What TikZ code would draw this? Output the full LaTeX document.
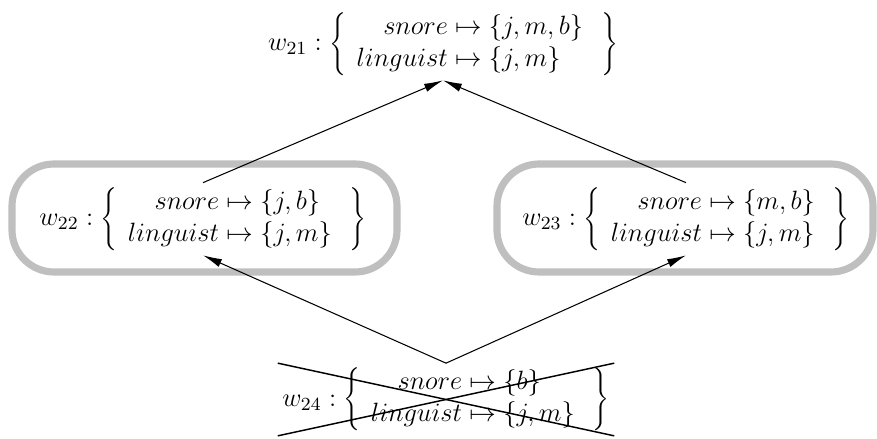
\RequirePackage{fix-cm}
\documentclass[tikz,border=0pt]{standalone}
\usetikzlibrary{arrows.meta}
\newcommand{\worldtext}[3]{$w_{#1}:\left\{\begin{array}{r@{}l} snore & {}\mapsto #2\\ linguist & {}\mapsto #3\end{array}\;\right\}$}
\tikzset{
  world/.style={inner sep=2.2pt, outer sep=0pt, font=\fontsize{12.6}{15.1}\selectfont},
  conn/.style={line width=0.5pt, -{Latex[length=9pt,width=4pt]}},
  grouping/.style={draw=black!25, line width=3.4pt, rounded corners=20pt},
  crossline/.style={line width=0.7pt}
}
\begin{document}
\begin{tikzpicture}[x=0.476pt, y=-0.476pt]
\useasboundingbox (0,0) rectangle (877,439);
\node[world] (w21) at (443,44) {\worldtext{21}{\{j,m,b\}}{\{j,m\}}};
\node[world] (w22) at (203,219) {\worldtext{22}{\{j,b\}}{\{j,m\}}};
\node[world] (w23) at (686,219) {\worldtext{23}{\{m,b\}}{\{j,m\}}};
\node[world] (w24) at (446,399.5) {\worldtext{24}{\{b\}}{\{j,m\}}};
\draw[grouping] (12,164) rectangle (397,272);
\draw[grouping] (497,164) rectangle (873,272);
\draw[conn] (w22.north) -- (w21.south);
\draw[conn] (w23.north) -- (w21.south);
\draw[conn] (w24.north) -- (w22.south);
\draw[conn] (w24.north) -- (w23.south);
\draw[crossline] (w24.north west) -- (w24.south east);
\draw[crossline] (w24.south west) -- (w24.north east);
\end{tikzpicture}
\end{document}
